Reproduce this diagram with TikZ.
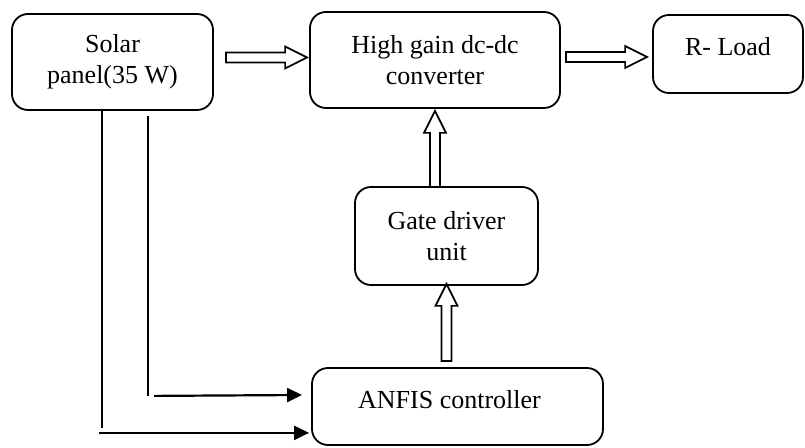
\documentclass[tikz,border=0pt]{standalone}
\usepackage{fontspec}
\setmainfont{Liberation Serif}
\usepackage{tikz}
\usetikzlibrary{arrows.meta,calc}

\newcommand{\fatarrow}[2]{%
 \coordinate (hb) at ($(#2)!11pt!(#1)$);
 \draw[hollow] ($(#1)!2.5pt!90:(#2)$) -- ($(hb)!2.5pt!-90:(#1)$)
   -- ($(hb)!5.5pt!-90:(#1)$) -- (#2) -- ($(hb)!5.5pt!90:(#1)$)
   -- ($(hb)!2.5pt!90:(#1)$) -- ($(#1)!2.5pt!-90:(#2)$) -- cycle;}

\begin{document}
\begin{tikzpicture} [x=0.5pt, y=-0.5pt,
 block/.style={draw, rounded corners=8pt, line width=0.9pt, align=center, inner sep=0pt,
   font=\fontsize{13}{15.5}\selectfont},
 hollow/.style={draw, fill=white, line width=0.85pt, line join=miter},
 feed/.style={line width=1.1pt, -{Triangle[length=7.5pt,width=7pt]}}]
 \useasboundingbox (0,0) rectangle (805,448);

 \node[block, minimum width=100.5pt, minimum height=48pt] (solar) at (112.5,62) {Solar\\panel(35 W)};
 \node[block, minimum width=125pt, minimum height=48pt] (hg) at (435,60) {High gain dc-dc\\converter};
 \node[block, minimum width=75pt, minimum height=39pt, text height=9pt, text depth=7.4pt] (load) at (728,54) {R- Load};
 \node[block, minimum width=91.5pt, minimum height=49pt] (gate) at (446.5,236) {Gate driver\\unit};
 \node[block, minimum width=145.5pt, minimum height=38.5pt, text height=9pt, text depth=7.4pt] (anfis) at (457.5,406.5) {ANFIS controller\hspace*{8pt}};

 \coordinate (a1s) at ($(solar.east)+(12,-4.5)$);
 \coordinate (a1e) at ($(hg.west)+(-2,-2.5)$);
 \coordinate (a2s) at ($(hg.east)+(5,-3)$);
 \coordinate (a2e) at ($(load.west)+(-5,3)$);
 \coordinate (a3s) at ($(gate.north)+(-11.5,1)$);
 \coordinate (a3e) at ($(hg.south)+(0,2)$);
 \coordinate (a4s) at ($(gate.south |- anfis.north)+(0,-6)$);
 \coordinate (a4e) at ($(gate.south)+(0,-2)$);
 \fatarrow{a1s}{a1e}
 \fatarrow{a2s}{a2e}
 \fatarrow{a3s}{a3e}
 \fatarrow{a4s}{a4e}

 \coordinate (v1top) at ($(solar.south west)+(91,0)$);
 \coordinate (v1bot) at ($(v1top)+(0,317)$);
 \coordinate (v2top) at ($(solar.south west)+(137,5)$);
 \coordinate (v2bot) at ($(v2top)+(0,280)$);
 \draw[line width=1.1pt] (v1top) -- (v1bot);
 \draw[line width=1.1pt] (v2top) -- (v2bot);
 \draw[feed] ($(v1bot)+(-3,5)$) -- ($(anfis.south west)+(-2,-13)$);
 \draw[feed] ($(v2bot)+(6,0)$) -- ($(anfis.west)+(-9,-11.5)$);
\end{tikzpicture}
\end{document}
